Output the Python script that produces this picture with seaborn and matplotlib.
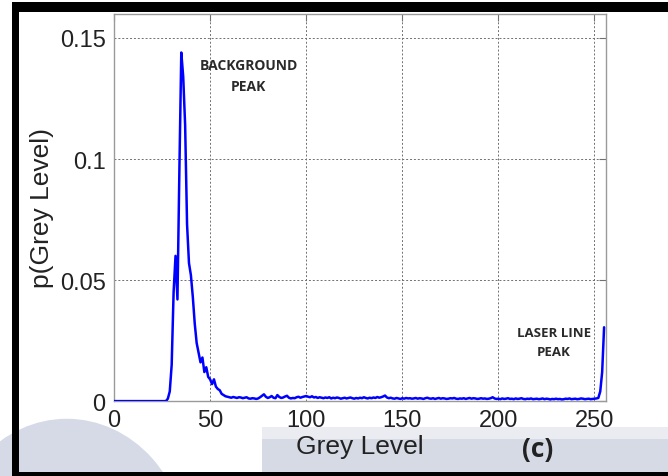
import numpy as np
import pandas as pd
import matplotlib
matplotlib.use("Agg")
import matplotlib.pyplot as plt
import seaborn as sns
from matplotlib.patches import Rectangle, Ellipse

# ---- data ----
grey_zero = [0.0] * 28   # grey levels 0..27
grey_peak = [0.001, 0.004, 0.015, 0.045, 0.060, 0.042, 0.095, 0.144, 0.134, 0.114,
             0.073, 0.057, 0.052, 0.043, 0.032, 0.024, 0.020, 0.016, 0.018, 0.012,
             0.014, 0.010, 0.009, 0.007, 0.009, 0.006, 0.005, 0.0045, 0.003, 0.0025,
             0.002, 0.0018]  # 28..59
grey_tail = [
    0.0016, 0.0014, 0.0017, 0.0015, 0.0013, 0.0016, 0.0015, 0.0012, 0.0014, 0.0016,
    0.0011, 0.0010, 0.0012, 0.0011, 0.0009, 0.0011, 0.0016, 0.0022, 0.0028, 0.0018,
    0.0013, 0.0016, 0.0021, 0.0014, 0.0012, 0.0025, 0.0017, 0.0013, 0.0015, 0.0019,
    0.0022, 0.0014, 0.0011, 0.0013, 0.0012, 0.0016, 0.0018, 0.0014, 0.0017, 0.0019,
    0.0021, 0.0018, 0.0016, 0.0020, 0.0015, 0.0017, 0.0013, 0.0016, 0.0014, 0.0012,
    0.0015, 0.0013, 0.0016, 0.0011, 0.0014, 0.0012, 0.0015, 0.0013, 0.0010, 0.0012,
    0.0014, 0.0011, 0.0013, 0.0015, 0.0012, 0.0010, 0.0013, 0.0011, 0.0014, 0.0012,
    0.0016, 0.0013, 0.0011, 0.0014, 0.0012, 0.0015, 0.0013, 0.0017, 0.0014, 0.0016,
    0.0019, 0.0023, 0.0015, 0.0012, 0.0014, 0.0011, 0.0010, 0.0013, 0.0011, 0.0009,
    0.0012, 0.0010, 0.0013, 0.0011, 0.0012, 0.0010, 0.0011, 0.0013, 0.0010, 0.0012,
    0.0011, 0.0009, 0.0012, 0.0014, 0.0011, 0.0010, 0.0012, 0.0009, 0.0011, 0.0013,
    0.0010, 0.0012, 0.0011, 0.0009, 0.0010, 0.0012, 0.0011, 0.0013, 0.0010, 0.0009,
    0.0011, 0.0010, 0.0012, 0.0009, 0.0011, 0.0013, 0.0010, 0.0012, 0.0011, 0.0009,
    0.0010, 0.0012, 0.0010, 0.0011, 0.0009, 0.0010, 0.0012, 0.0016, 0.0011, 0.0009,
    0.0010, 0.0008, 0.0011, 0.0009, 0.0010, 0.0012, 0.0009, 0.0010, 0.0008, 0.0011,
    0.0009, 0.0010, 0.0012, 0.0009, 0.0008, 0.0010, 0.0009, 0.0011, 0.0008, 0.0009,
    0.0010, 0.0008, 0.0009, 0.0011, 0.0008, 0.0010, 0.0009, 0.0007, 0.0009, 0.0008,
    0.0010, 0.0008, 0.0009, 0.0007, 0.0008, 0.0010, 0.0009, 0.0011, 0.0008, 0.0009,
    0.0010, 0.0008, 0.0009, 0.0011, 0.0010, 0.0008, 0.0009, 0.0010, 0.0008, 0.0009,
    0.0010, 0.0011, 0.0013]  # 60..252
grey_laser = [0.004, 0.012, 0.0305]  # 253..255

p_grey = grey_zero + grey_peak + grey_tail + grey_laser
grey_levels = list(range(len(p_grey)))

x_ticks = [0, 50, 100, 150, 200, 250]
y_ticks = [0, 0.05, 0.1, 0.15]
y_tick_labels = ["0", "0.05", "0.1", "0.15"]

df = pd.DataFrame({"Grey Level": grey_levels, "p": p_grey})

# ---- style ----
sns.set_style("white")
plt.rcParams["font.family"] = ["Liberation Sans", "DejaVu Sans"]

fig = plt.figure(figsize=(6.68, 4.77), dpi=100)
fig.patch.set_facecolor("white")

# watermark-ish background shapes (scan artefacts)
fig.patches.append(Ellipse((0.10, -0.16), 0.36, 0.56, transform=fig.transFigure,
                           facecolor="#d6dae6", edgecolor="none", zorder=0))
fig.patches.append(Rectangle((0.392, 0.0), 0.61, 0.103, transform=fig.transFigure,
                             facecolor="#d6dae5", edgecolor="none", zorder=0))
fig.patches.append(Rectangle((0.392, 0.078), 0.61, 0.025, transform=fig.transFigure,
                             facecolor="#eaecf1", edgecolor="none", zorder=0))
# black scan frame
fig.patches.append(Rectangle((0.018, 0.0), 0.011, 0.975, transform=fig.transFigure,
                             facecolor="black", edgecolor="none", zorder=1))
fig.patches.append(Rectangle((0.018, 0.972), 0.982, 0.021, transform=fig.transFigure,
                             facecolor="black", edgecolor="none", zorder=1))
fig.patches.append(Rectangle((0.018, 0.0), 0.982, 0.008, transform=fig.transFigure,
                             facecolor="black", edgecolor="none", zorder=1))

ax = fig.add_axes([0.1707, 0.157, 0.7365, 0.812])
ax.set_zorder(5)
ax.set_facecolor("white")

sns.lineplot(data=df, x="Grey Level", y="p", ax=ax, color="#0000ff",
             linewidth=1.8, zorder=3)

ax.set_xlim(0, 256)
ax.set_ylim(0, 0.16)
ax.set_xticks(x_ticks)
ax.set_yticks(y_ticks)
ax.set_yticklabels(y_tick_labels)
ax.grid(True, linestyle=(0, (2, 2)), color="#707070", linewidth=0.7)
for s in ax.spines.values():
    s.set_visible(True)
    s.set_color("#9a9a9a")
    s.set_linewidth(1.0)
ax.tick_params(direction="in", length=5, width=0.8, color="#707070",
               top=True, right=True, labelsize=17, labelcolor="#222222", pad=6)

ax.set_xlabel("Grey Level", fontsize=19, color="#222222", labelpad=2)
ax.set_ylabel("p(Grey Level)", fontsize=19, color="#222222", labelpad=4)

ax.text(70, 0.1416, "BACKGROUND\nPEAK", ha="center", va="top", fontsize=10,
        fontweight="bold", family="Open Sans", color="#2a2a2a", linespacing=1.6)
ax.text(229, 0.031, "LASER LINE\nPEAK", ha="center", va="top", fontsize=9.5,
        fontweight="bold", family="Open Sans", color="#2a2a2a", linespacing=1.6)

fig.text(0.805, 0.0587, "(c)", ha="center", va="center", fontsize=19,
         fontweight="bold", family="Open Sans", color="#222222", zorder=6)

fig.savefig("out.png", dpi=100)
